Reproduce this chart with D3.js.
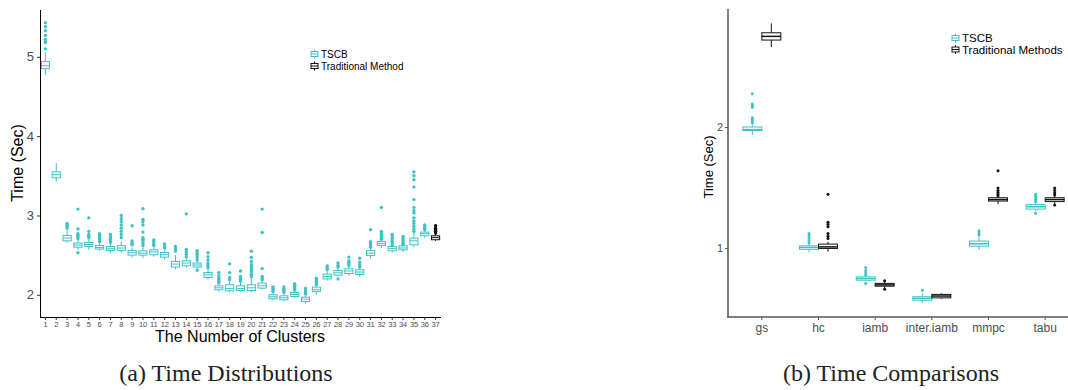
<!DOCTYPE html>
<html><head><meta charset="utf-8">
<script src="https://cdn.jsdelivr.net/npm/d3@7"></script>
<style>body{margin:0;background:#fff}svg{display:block}</style>
</head><body>
<svg id="c" width="1068" height="390"></svg>
<script>
// ---------- Panel (a) data ----------
const clusters = ["1","2","3","4","5","6","7","8","9","10","11","12","13","14","15","16","17","18","19","20","21","22","23","24","25","26","27","28","29","30","31","32","33","34","35","36","37"];
const clusterSeries = ["TSCB","TSCB","TSCB","TSCB","TSCB","TSCB","TSCB","TSCB","TSCB","TSCB","TSCB","TSCB","TSCB","TSCB","TSCB","TSCB","TSCB","TSCB","TSCB","TSCB","TSCB","TSCB","TSCB","TSCB","TSCB","TSCB","TSCB","TSCB","TSCB","TSCB","TSCB","TSCB","TSCB","TSCB","TSCB","TSCB","Traditional Method"];
// [lower whisker, Q1, median, Q3, upper whisker]
const clusterStats = [
 [4.77,4.85,4.888,4.94,5.06],[3.425,3.475,3.513,3.55,3.66],[2.66,2.68,2.715,2.748,2.82],[2.567,2.60,2.627,2.652,2.69],
 [2.57,2.61,2.634,2.66,2.70],[2.55,2.577,2.597,2.622,2.65],[2.53,2.559,2.58,2.609,2.645],[2.53,2.56,2.59,2.62,2.68],
 [2.47,2.50,2.53,2.559,2.60],[2.46,2.50,2.525,2.555,2.60],[2.48,2.505,2.54,2.567,2.60],[2.44,2.475,2.505,2.533,2.57],
 [2.32,2.35,2.387,2.42,2.50],[2.34,2.366,2.40,2.429,2.47],[2.33,2.35,2.375,2.40,2.43],[2.19,2.218,2.25,2.28,2.32],
 [2.04,2.063,2.088,2.113,2.14],[2.03,2.05,2.08,2.126,2.17],[2.04,2.054,2.08,2.113,2.15],[2.03,2.054,2.088,2.126,2.21],
 [2.07,2.084,2.113,2.147,2.18],[1.93,1.95,1.975,2.0,2.03],[1.92,1.937,1.962,1.987,2.02],[1.96,1.979,2.004,2.029,2.05],
 [1.89,1.915,1.946,1.97,2.0],[2.0,2.04,2.063,2.097,2.12],[2.18,2.20,2.23,2.26,2.30],[2.23,2.248,2.277,2.306,2.34],
 [2.24,2.268,2.30,2.328,2.36],[2.23,2.256,2.287,2.315,2.34],[2.46,2.496,2.525,2.559,2.59],[2.59,2.622,2.647,2.672,2.69],
 [2.53,2.555,2.585,2.609,2.62],[2.54,2.567,2.59,2.618,2.62],[2.60,2.63,2.68,2.714,2.79],[2.72,2.744,2.77,2.79,2.81],
 [2.68,2.694,2.72,2.744,2.77]
];
const clusterOutliers = [
 [5.10,5.18,5.19,5.22,5.27,5.33,5.38,5.43],[],[2.84,2.86,2.88,2.90],[2.53,2.71,2.73,2.75,2.77,2.83,3.08],
 [2.72,2.74,2.76,2.80,2.97],[2.67,2.69,2.71,2.73,2.75,2.77],[2.66,2.68,2.70,2.72,2.74,2.76],[2.72,2.76,2.80,2.84,2.88,2.92,2.96,3.0],
 [2.63,2.65,2.68,2.87],[2.62,2.65,2.68,2.70,2.72,2.79,2.88,2.92,2.95,3.085],[2.62,2.64,2.67,2.69],[2.59,2.61,2.64],
 [2.55,2.58,2.61],[2.48,2.51,2.54,2.57,3.02],[2.31,2.44,2.47,2.50,2.53,2.555],[2.34,2.37,2.40,2.44,2.48,2.53],
 [2.15,2.17,2.19,2.21,2.24,2.28],[2.19,2.22,2.28,2.39],[2.17,2.19,2.21,2.23,2.30],[2.23,2.26,2.29,2.32,2.35,2.38,2.42,2.47,2.55],
 [2.19,2.21,2.23,2.33,2.785,3.08],[2.04,2.06,2.08,2.10],[2.03,2.05,2.07,2.10],[2.06,2.08,2.10,2.12,2.14],
 [2.01,2.03,2.05,2.08],[2.13,2.15,2.17,2.19,2.21],[2.32,2.34,2.365],[2.20,2.35,2.37,2.40],
 [2.37,2.39,2.41,2.43,2.475],[2.35,2.38,2.41,2.46],[2.60,2.62,2.64,2.67,2.82],[2.70,2.72,2.74,2.76,2.78,2.80,3.10],
 [2.63,2.66,2.68,2.71,2.74,2.76],[2.63,2.65,2.67,2.69,2.71,2.735],[2.80,2.83,2.86,2.90,2.93,2.97,3.03,3.06,3.10,3.20,3.36,3.45,3.50,3.55],[2.82,2.84,2.86,2.88],
 [2.78,2.80,2.82,2.84,2.87]
];
const seriesA = ["TSCB","Traditional Method"];
const yTicksA = [2,3,4,5];

// ---------- Panel (b) data ----------
const methods = ["gs","hc","iamb","inter.iamb","mmpc","tabu"];
const seriesB = ["TSCB","Traditional Methods"];
const tscbStats = [[1.91,1.96,1.97,2.0,2.03],[0.976,0.993,1.004,1.013,1.027],[0.826,0.832,0.84,0.848,0.855],[0.73,0.742,0.75,0.757,0.772],[0.989,1.011,1.025,1.041,1.067],[1.235,1.25,1.267,1.284,1.30]];
const tscbOutliers = [[2.05,2.07,2.09,2.11,2.24,2.26,2.28,2.42],[1.03,1.045,1.06,1.075,1.087],[0.817,0.857,0.868,0.88,0.895],[0.786],[1.077,1.09,1.104],[1.22,1.305,1.32,1.335,1.35,1.36]];
const tradStats = [[3.16,3.29,3.36,3.43,3.62],[0.98,0.998,1.007,1.023,1.037],[0.795,0.804,0.81,0.817,0.825],[0.748,0.752,0.76,0.767,0.772],[1.287,1.309,1.32,1.334,1.345],[1.29,1.305,1.32,1.334,1.35]];
const tradOutliers = [[],[1.057,1.07,1.087,1.13,1.145,1.16,1.36],[0.79,0.83],[],[1.347,1.36,1.375,1.39,1.41,1.557],[1.28,1.355,1.37,1.39,1.41]];
const yTicksB = [1,2];

// ---------- drawing ----------
const svg = d3.select("#c");
const CYAN = "#3dc3c6", BLACK = "#111";
const colorA = d3.scaleOrdinal().domain(seriesA).range([CYAN, BLACK]);
const colorB = d3.scaleOrdinal().domain(seriesB).range([CYAN, BLACK]);
const SANS = "'Liberation Sans', Arial, Helvetica, sans-serif";
const SERIF = "'Liberation Serif', 'Times New Roman', serif";

function drawBox(g, cx, w, s, outs, y, col, r, medW) {
  g.append("line").attr("x1", cx).attr("x2", cx).attr("y1", y(s[0])).attr("y2", y(s[1])).attr("stroke", col).attr("stroke-width", 1);
  g.append("line").attr("x1", cx).attr("x2", cx).attr("y1", y(s[3])).attr("y2", y(s[4])).attr("stroke", col).attr("stroke-width", 1);
  g.append("rect").attr("x", cx - w/2).attr("width", w).attr("y", y(s[3])).attr("height", Math.max(1, y(s[1]) - y(s[3])))
    .attr("fill", "#fff").attr("stroke", col).attr("stroke-width", 1);
  g.append("line").attr("x1", cx - w/2).attr("x2", cx + w/2).attr("y1", y(s[2])).attr("y2", y(s[2])).attr("stroke", col).attr("stroke-width", medW);
  g.selectAll(null).data(outs).enter().append("circle").attr("cx", cx).attr("cy", d => y(d)).attr("r", r).attr("fill", col);
}

// Panel (a)
const xA = d3.scaleBand().domain(clusters).range([40, 441]).paddingInner(0.25).paddingOuter(0.125);
const yA = d3.scaleLinear().domain([1.72, 5.59]).range([317, 10]);
const gA = svg.append("g");
clusters.forEach((c, i) => {
  drawBox(gA, xA(c) + xA.bandwidth()/2, xA.bandwidth(), clusterStats[i], clusterOutliers[i], yA, colorA(clusterSeries[i]), 1.7, 1);
});
const axA = svg.append("g").attr("transform", "translate(40,0)")
  .call(d3.axisLeft(yA).tickValues(yTicksA).tickSize(3).tickPadding(3).tickFormat(d3.format("d")));
axA.select(".domain").attr("stroke", "#000").attr("d", "M0.5,10V317.5");
axA.selectAll(".tick line").attr("stroke", "#333");
axA.selectAll("text").attr("fill", "#4d4d4d").style("font-family", SANS).style("font-size", "13px");
const axAx = svg.append("g").attr("transform", "translate(0,317)")
  .call(d3.axisBottom(xA).tickSize(3).tickPadding(2));
axAx.select(".domain").attr("stroke", "#000").attr("d", "M40,0.5H441");
axAx.selectAll(".tick line").attr("stroke", "#333");
axAx.selectAll("text").attr("fill", "#4d4d4d").style("font-family", SANS).style("font-size", "7.5px").style("letter-spacing", "-0.2px");
svg.append("text").attr("transform", "translate(23,163) rotate(-90)").attr("text-anchor", "middle")
  .style("font-family", SANS).style("font-size", "16px").attr("fill", "#000").text("Time (Sec)");
svg.append("text").attr("x", 240).attr("y", 342).attr("text-anchor", "middle")
  .style("font-family", SANS).style("font-size", "16px").attr("fill", "#000").text("The Number of Clusters");
svg.append("text").attr("x", 226).attr("y", 381).attr("text-anchor", "middle")
  .style("font-family", SERIF).style("font-size", "24px").attr("fill", "#222").text("(a) Time Distributions");

function legendKey(g, x, yc, col, w, h) {
  g.append("line").attr("x1", x + w/2).attr("x2", x + w/2).attr("y1", yc - h/2 - 2).attr("y2", yc + h/2 + 2).attr("stroke", col);
  g.append("rect").attr("x", x).attr("y", yc - h/2).attr("width", w).attr("height", h).attr("fill", "#fff").attr("stroke", col);
  g.append("line").attr("x1", x).attr("x2", x + w).attr("y1", yc).attr("y2", yc).attr("stroke", col);
}
const legA = svg.append("g");
seriesA.forEach((s, i) => {
  const yc = 54 + i * 12;
  legendKey(legA, 311, yc, colorA(s), 7, 5);
  legA.append("text").attr("x", 321).attr("y", yc).attr("dy", "0.35em").style("font-family", SANS).style("font-size", "10px").attr("fill", "#000").text(s);
});

// Panel (b)
const xB = d3.scaleBand().domain(methods).range([733.5, 1073.5]).paddingInner(0.33).paddingOuter(0.165);
const xSub = d3.scaleBand().domain(seriesB).range([0, xB.bandwidth()]);
const yB = d3.scaleLog().domain([0.674, 3.93]).range([317, 9]);
const gB = svg.append("g");
methods.forEach((m, i) => {
  const x0 = xB(m);
  drawBox(gB, x0 + xSub(seriesB[0]) + xSub.bandwidth()/2, xSub.bandwidth(), tscbStats[i], tscbOutliers[i], yB, colorB(seriesB[0]), 1.5, 1.5);
  drawBox(gB, x0 + xSub(seriesB[1]) + xSub.bandwidth()/2, xSub.bandwidth(), tradStats[i], tradOutliers[i], yB, colorB(seriesB[1]), 1.5, 1.5);
});
const axB = svg.append("g").attr("transform", "translate(728,0)")
  .call(d3.axisLeft(yB).tickValues(yTicksB).tickSize(3).tickPadding(2).tickFormat(d3.format("d")));
axB.select(".domain").attr("stroke", "#555").attr("stroke-width", 1.5).attr("d", "M0,9V317");
axB.selectAll(".tick line").attr("stroke", "#555");
axB.selectAll("text").attr("fill", "#4d4d4d").style("font-family", SANS).style("font-size", "11px");
const axBx = svg.append("g").attr("transform", "translate(0,317)")
  .call(d3.axisBottom(xB).tickSize(3).tickPadding(3));
axBx.select(".domain").attr("stroke", "#555").attr("stroke-width", 1.5).attr("d", "M727,0H1068");
axBx.selectAll(".tick line").attr("stroke", "#555");
axBx.selectAll("text").attr("fill", "#4d4d4d").style("font-family", SANS).style("font-size", "12px");
svg.append("text").attr("transform", "translate(713,167) rotate(-90)").attr("text-anchor", "middle")
  .style("font-family", SANS).style("font-size", "13px").attr("fill", "#000").text("Time (Sec)");
svg.append("text").attr("x", 891).attr("y", 381).attr("text-anchor", "middle")
  .style("font-family", SERIF).style("font-size", "24px").attr("fill", "#222").text("(b) Time Comparisons");
const legB = svg.append("g");
seriesB.forEach((s, i) => {
  const yc = 38 + i * 11.5;
  legendKey(legB, 952, yc, colorB(s), 7, 5);
  legB.append("text").attr("x", 962).attr("y", yc).attr("dy", "0.35em").style("font-family", SANS).style("font-size", "11.5px").attr("fill", "#000").text(s);
});
</script>
</body></html>
